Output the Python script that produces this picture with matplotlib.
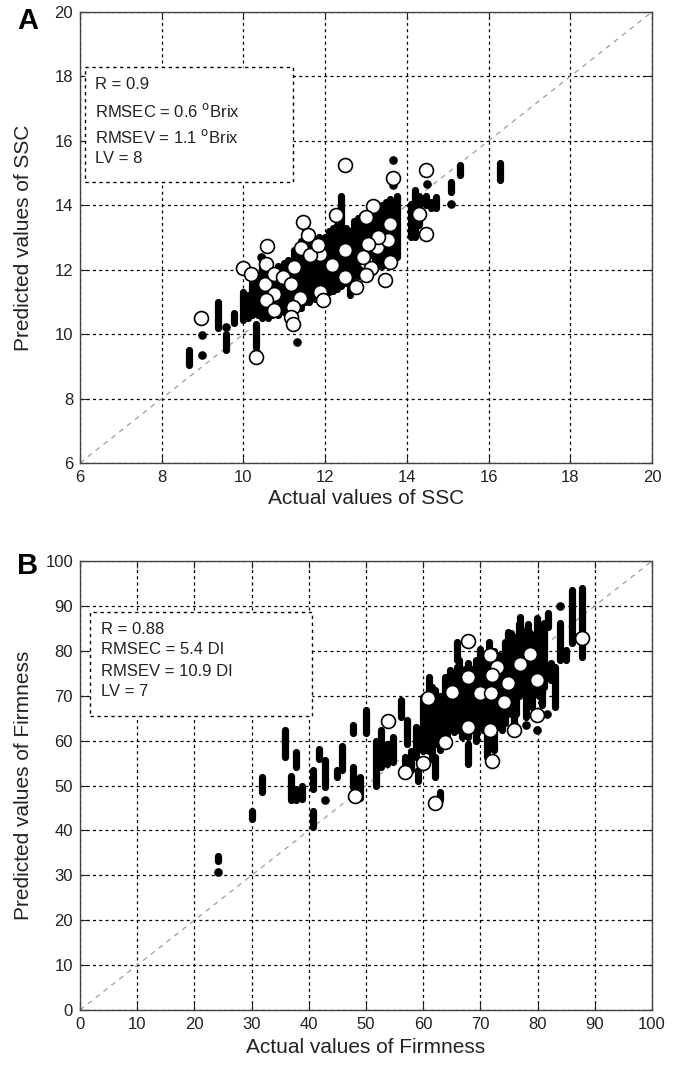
import matplotlib.pyplot as plt
from matplotlib.patches import Rectangle

plt.rcParams['font.family'] = ['Liberation Sans', 'DejaVu Sans']

# ---- panel A: SSC ----
# calibration points come in vertical stacks (x, lowest y, highest y)
ssc_col_x = [8.68, 9.38, 9.58, 9.76, 10.0, 10.1, 10.2, 10.3, 10.35, 10.45,
             10.6, 10.7, 10.85, 11.0, 11.1, 11.25, 11.4, 11.5, 11.6, 11.75,
             11.85, 12.0, 12.1, 12.2, 12.3, 12.4, 12.5, 12.6, 12.7, 12.8,
             12.9, 13.0, 13.1, 13.2, 13.3, 13.4, 13.5, 13.6, 13.75, 14.1,
             14.2, 14.3, 14.47, 14.6, 14.72, 15.09, 15.29, 16.27]
ssc_col_lo = [9.05, 10.2, 9.5, 10.35, 10.45, 10.5, 10.6, 9.6, 10.6, 10.5,
              10.5, 10.6, 10.6, 10.7, 10.6, 10.5, 10.8, 11.0, 11.0, 11.1,
              11.1, 11.2, 11.3, 11.35, 11.4, 11.5, 11.6, 11.2, 11.8, 11.8,
              11.9, 12.0, 11.9, 12.0, 12.1, 12.1, 12.2, 12.3, 12.4, 13.0,
              13.0, 13.4, 14.0, 13.9, 13.9, 14.41, 14.93, 14.78]
ssc_col_hi = [9.5, 11.0, 10.0, 10.65, 11.3, 11.2, 11.6, 10.3, 11.8, 12.4,
              12.0, 11.9, 12.1, 12.2, 12.3, 12.6, 12.9, 13.3, 12.8, 12.9,
              13.0, 13.0, 13.2, 13.3, 13.4, 14.3, 13.3, 13.2, 13.5, 13.6,
              13.7, 13.7, 13.8, 13.9, 13.9, 14.0, 14.1, 14.2, 14.3, 14.05,
              14.47, 14.3, 14.3, 14.1, 14.26, 14.73, 15.25, 15.3]
ssc_dot_x = [8.99, 8.99, 9.58, 10.3, 11.3, 10.44, 13.66, 13.66, 14.49, 15.09]
ssc_dot_y = [9.35, 9.97, 10.23, 9.45, 9.76, 12.4, 15.4, 14.62, 14.67, 14.05]
# validation points (open circles)
ssc_val_x = [12.48, 13.66, 14.46, 14.48, 14.3, 13.17, 12.27, 11.46, 11.58, 10.58,
             11.42, 11.87, 12.48, 12.99, 12.99, 13.28, 13.54, 13.58, 13.46, 13.13,
             13.0, 13.3, 13.05, 13.58, 9.99, 10.19, 10.56, 10.52, 10.74, 10.97,
             10.76, 10.56, 10.76, 11.25, 11.17, 11.38, 11.21, 11.17, 11.21, 11.87,
             11.95, 12.18, 12.48, 12.76, 12.93, 8.97, 10.30, 11.62, 11.83]
ssc_val_y = [15.25, 14.86, 15.09, 13.10, 13.73, 13.97, 13.69, 13.49, 13.09, 12.73,
             12.66, 12.5, 12.6, 13.64, 12.25, 12.71, 12.92, 12.25, 11.68, 12.04,
             11.83, 13.02, 12.81, 13.41, 12.04, 11.88, 12.19, 11.57, 11.88, 11.78,
             11.26, 11.06, 10.75, 12.09, 11.57, 11.11, 10.85, 10.54, 10.31, 11.32,
             11.06, 12.14, 11.78, 11.47, 12.4, 10.51, 9.28, 12.45, 12.76]
ssc_ticks = [6, 8, 10, 12, 14, 16, 18, 20]
ssc_text = ["R = 0.9",
            "RMSEC = 0.6 $^{\\mathrm{o}}$Brix",
            "RMSEV = 1.1 $^{\\mathrm{o}}$Brix",
            "LV = 8"]

# ---- panel B: Firmness ----
frm_col_x = [24.1, 30.1, 31.8, 35.9, 36.9, 37.7, 37.7, 38.8, 40.7, 40.7,
             41.8, 42.9, 44.9, 45.8, 47.8, 47.8, 48.9, 50.0, 51.8, 52.7,
             53.6, 54.7, 56.2, 57.1, 56.8, 57.9, 58.8, 59.1, 60.0, 61.0,
             62.0, 62.0, 62.9, 63.8, 64.7, 65.9, 65.9, 66.7, 67.9, 67.9,
             68.8, 70.0, 70.5, 71.1, 72.9, 73.8, 74.9, 75.8, 77.0, 77.9,
             79.0, 79.9, 81.1, 81.9, 82.3, 83.1, 84.0, 84.9, 86.1, 87.8,
             60.5, 61.5, 63.0, 64.2, 65.3, 66.2, 67.3, 68.3, 69.3, 71.5,
             72.3, 73.3, 74.3, 75.3, 76.3, 76.7, 78.3, 78.7, 80.3, 80.7]
frm_col_lo = [33.2, 42.6, 48.5, 56.3, 46.7, 54.1, 46.7, 47.0, 49.3, 40.7,
              56.0, 49.6, 51.9, 53.5, 49.6, 61.6, 47.2, 61.6, 49.8, 54.1,
              54.9, 55.2, 65.3, 59.3, 52.6, 53.4, 56.3, 51.1, 57.8, 57.8,
              59.3, 51.9, 46.7, 61.6, 63.0, 77.9, 62.3, 60.8, 60.8, 54.9,
              63.0, 64.5, 62.3, 56.3, 65.3, 62.3, 66.8, 63.8, 75.7, 65.3,
              67.5, 80.9, 72.0, 85.4, 73.5, 67.5, 77.9, 77.9, 81.7, 78.7,
              58, 56, 58, 60, 62, 64, 62, 64, 60, 64,
              58, 63, 64, 66, 66, 70, 68, 70, 70, 68]
frm_col_hi = [34.2, 44.4, 51.9, 62.3, 52.2, 57.5, 49.3, 49.8, 53.4, 44.4,
              58.2, 55.6, 53.4, 58.7, 54.1, 63.4, 51.9, 66.8, 60.0, 62.3,
              59.3, 60.8, 69.0, 64.5, 56.3, 57.8, 63.0, 53.4, 69.7, 74.2,
              71.2, 56.3, 48.5, 74.2, 75.7, 82.0, 76.4, 73.5, 77.2, 59.3,
              75.7, 80.5, 79.4, 69.7, 73.5, 78.7, 84.3, 83.1, 87.6, 84.6,
              83.1, 87.2, 86.1, 88.4, 77.2, 76.4, 86.1, 80.2, 93.6, 93.9,
              70, 72, 70, 72, 74, 78, 76, 76, 78, 82,
              80, 79, 82, 84, 82, 86, 86, 84, 86, 84]
frm_dot_x = [24.1, 84.0, 79.9, 75.8, 77.9, 81.7, 42.9]
frm_dot_y = [30.7, 89.9, 62.3, 63.4, 63.4, 66.0, 46.8]
frm_val_x = [67.9, 71.7, 72.9, 72.0, 67.9, 65.0, 70.0, 71.8, 74.1, 74.9,
             77.0, 78.7, 79.9, 79.9, 87.8, 60.9, 53.8, 67.9, 71.7, 75.8,
             63.8, 59.9, 56.8, 72.0, 62.0, 48.0]
frm_val_y = [82.2, 79.1, 76.4, 74.6, 74.2, 70.9, 70.6, 70.6, 68.6, 72.9,
             77.0, 79.4, 73.5, 65.7, 82.9, 69.4, 64.3, 63.0, 62.4, 62.3,
             59.7, 55.0, 53.1, 55.4, 46.1, 47.6]
frm_ticks = [0, 10, 20, 30, 40, 50, 60, 70, 80, 90, 100]
frm_text = ["R = 0.88", "RMSEC = 5.4 DI", "RMSEV = 10.9 DI", "LV = 7"]


def draw_panel(ax, cx, clo, chi, dx, dy, vx, vy, ticks, lines, box, text_y, text_x):
    lim = [ticks[0], ticks[-1]]
    ax.plot(lim, lim, color="0.62", linestyle=(0, (4, 4)), linewidth=0.9, zorder=1)
    ax.vlines(cx, clo, chi, colors="black", linewidth=5.2, capstyle="round", zorder=2)
    ax.plot(dx, dy, "o", ms=5.2, color="black", zorder=2)
    ax.plot(vx, vy, "o", ms=10, mfc="white", mec="black", mew=1.2, zorder=3)

    ax.set_xlim(lim)
    ax.set_ylim(lim)
    ax.set_xticks(ticks)
    ax.set_yticks(ticks)
    ax.grid(True, color="black", linestyle=(0, (2.4, 2.6)), linewidth=0.9)
    ax.set_axisbelow(True)
    ax.tick_params(direction="in", top=True, right=True, length=5, width=0.8,
                   labelsize=12, pad=5, colors="#222222")
    for s in ax.spines.values():
        s.set_color("#444444")
        s.set_linewidth(1.0)

    x0, y0, x1, y1 = box
    ax.add_patch(Rectangle((x0, y0), x1 - x0, y1 - y0, facecolor="white",
                           edgecolor="black", linestyle=(0, (2.4, 2.6)),
                           linewidth=1.0, zorder=4))
    for t, ty in zip(lines, text_y):
        ax.text(text_x, ty, t, fontsize=12, va="center", ha="left",
                color="#222222", zorder=5)


fig = plt.figure(figsize=(6.75, 10.67), dpi=100)
ax1 = fig.add_axes([0.1185, 0.5661, 0.8474, 0.4227])
ax2 = fig.add_axes([0.1185, 0.0534, 0.8474, 0.4208])

draw_panel(ax1, ssc_col_x, ssc_col_lo, ssc_col_hi, ssc_dot_x, ssc_dot_y,
           ssc_val_x, ssc_val_y, ssc_ticks, ssc_text, (6.12, 14.72, 11.22, 18.29),
           [17.74, 16.92, 16.13, 15.46], 6.37)
draw_panel(ax2, frm_col_x, frm_col_lo, frm_col_hi, frm_dot_x, frm_dot_y,
           frm_val_x, frm_val_y, frm_ticks, frm_text, (1.8, 65.4, 40.6, 88.7),
           [84.8, 80.2, 75.5, 71.0], 3.6)

ax1.set_xlabel("Actual values of SSC", fontsize=15, color="#222222")
ax1.set_ylabel("Predicted values of SSC", fontsize=15, color="#222222")
ax2.set_xlabel("Actual values of Firmness", fontsize=15, color="#222222")
ax2.set_ylabel("Predicted values of Firmness", fontsize=15, color="#222222")
ax1.yaxis.set_label_coords(-0.082, 0.5)
ax2.yaxis.set_label_coords(-0.082, 0.5)
ax1.xaxis.set_label_coords(0.5, -0.058)
ax2.xaxis.set_label_coords(0.5, -0.062)

fig.text(17 / 675, 1 - 21 / 1067, "A", fontsize=21, fontweight="bold", va="center")
fig.text(17 / 675, 1 - 566 / 1067, "B", fontsize=21, fontweight="bold", va="center")

fig.savefig("out.png", dpi=100)
